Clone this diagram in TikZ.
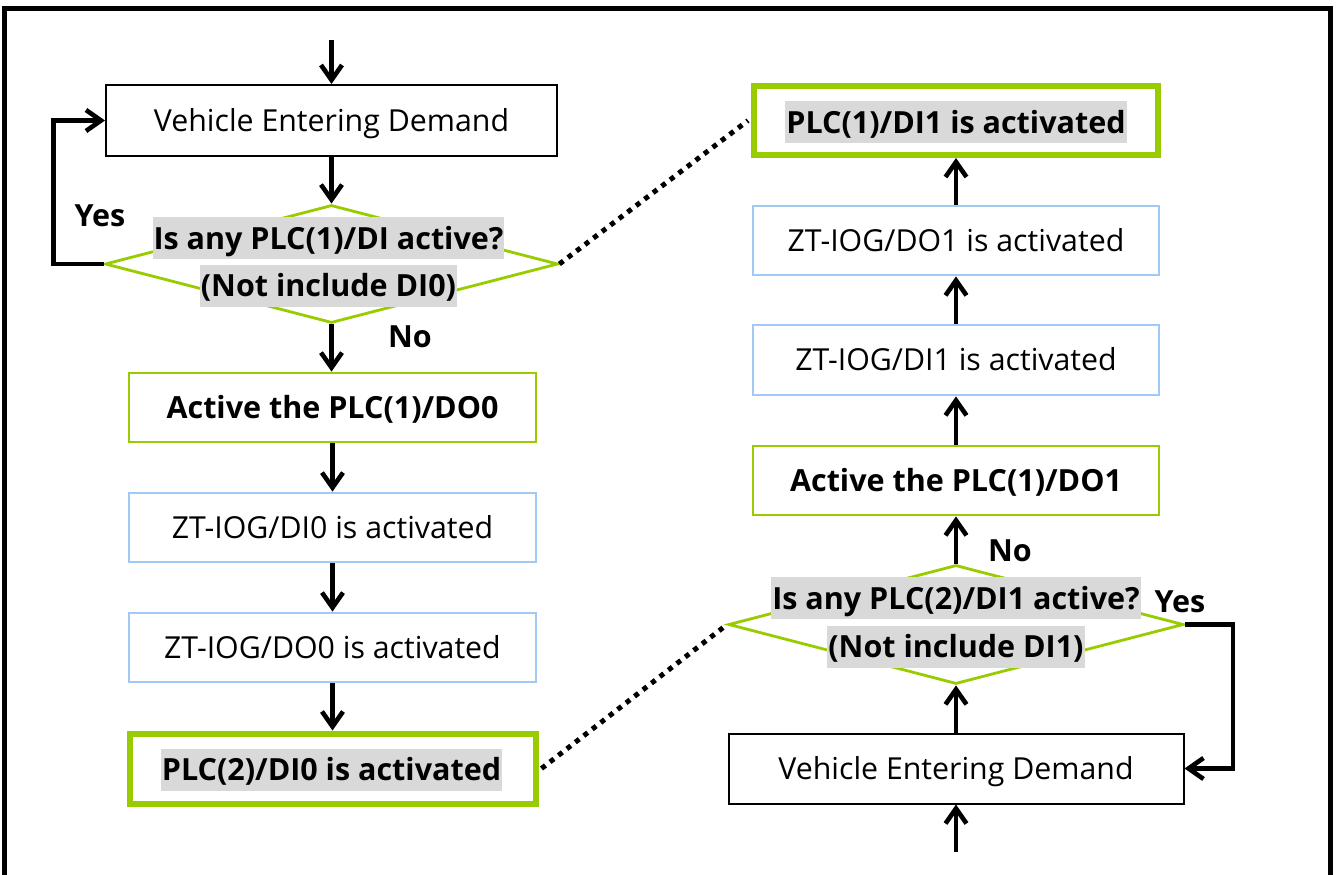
\documentclass[tikz,border=0pt]{standalone}
\usepackage{fontspec}
\setmainfont{Open Sans}
\usetikzlibrary{arrows.meta,shapes.geometric}
\definecolor{lgreen}{RGB}{153,204,0}
\definecolor{lblue}{RGB}{160,202,245}
\definecolor{hlgray}{RGB}{217,217,217}
\begin{document}
\begin{tikzpicture}[x=1pt,y=-1pt,
  regtext/.style={font=\fontsize{30.3}{36}\selectfont},
  boldtext/.style={font=\fontsize{30.5}{36}\selectfont\bfseries},
  boxbase/.style={rectangle, inner sep=0pt, minimum height=70pt, align=center, text height=21.5pt, text depth=0pt},
  blackbox/.style={boxbase, draw=black, line width=2pt, regtext},
  greenbox/.style={boxbase, draw=lgreen, line width=2.8pt, boldtext},
  bluebox/.style={boxbase, draw=lblue, line width=2.8pt, regtext},
  thickgreen/.style={boxbase, draw=lgreen, line width=6pt},
  decision/.style={diamond, draw=lgreen, line width=2.8pt, inner sep=0pt},
  hl/.style={fill=hlgray, inner xsep=1pt, inner ysep=0pt, text height=32pt, text depth=10pt, boldtext},
  lbl/.style={boldtext, inner sep=0pt},
  arr/.style={line width=4.6pt, -{Straight Barb[length=15pt,width=21pt]}},
  dots/.style={line width=5pt, dash pattern=on 5pt off 5.7pt}
]
\useasboundingbox (0,0) rectangle (1339,875);
\begin{scope}
\clip (0,0) rectangle (1339,875);
\draw[line width=5.5pt] (4.5,8.5) rectangle (1330.5,900);
\end{scope}

% left column
\node[blackbox, minimum width=451pt, minimum height=71pt] (ved1) at (331.5,120.5) {Vehicle Entering Demand};
\node[decision, minimum width=453pt, minimum height=118pt] (dia1) at (331.5,264) {};
\node[hl] (q1a) at (328.5,238) {Is any PLC(1)/DI active?};
\node[hl] (q1b) at (328.5,285.5) {(Not include DI0)};
\node[greenbox, minimum width=407pt, minimum height=69pt] (do0) at (332.5,407.5) {Active the PLC(1)/DO0};
\node[bluebox, minimum width=407pt, minimum height=69pt] (zdi0) at (332.5,527.5) {ZT-IOG/DI0 is activated};
\node[bluebox, minimum width=407pt, minimum height=69pt] (zdo0) at (332.5,647.5) {ZT-IOG/DO0 is activated};
\node[thickgreen, minimum width=406pt, minimum height=70pt] (plc2) at (332.5,768.5) {};
\node[hl] (plc2t) at (331.5,769.5) {PLC(2)/DI0 is activated};

% right column
\node[thickgreen, minimum width=404pt, minimum height=69pt] (plc1) at (956,120.5) {};
\node[hl] (plc1t) at (956,122) {PLC(1)/DI1 is activated};
\node[bluebox, minimum width=406pt, minimum height=69pt] (zdo1) at (956,240.5) {ZT-IOG/DO1 is activated};
\node[bluebox, minimum width=406pt, minimum height=70pt] (zdi1) at (956,360) {ZT-IOG/DI1 is activated};
\node[greenbox, minimum width=406pt, minimum height=69pt] (do1) at (956,480.5) {Active the PLC(1)/DO1};
\node[decision, minimum width=455pt, minimum height=119pt] (dia2) at (956,624.5) {};
\node[hl] (q2a) at (956,598) {Is any PLC(2)/DI1 active?};
\node[hl] (q2b) at (956,646.5) {(Not include DI1)};
\node[blackbox, minimum width=455pt, minimum height=70pt] (ved2) at (956,768.5) {Vehicle Entering Demand};

% labels
\node[lbl] (yes1) at (100,216) {Yes};
\node[lbl] (no1) at (410,337) {No};
\node[lbl] (no2) at (1010,551) {No};
\node[lbl] (yes2) at (1180,602) {Yes};

% arrows left
\coordinate (in1) at (331.5,40);
\draw[arr] (in1) -- (ved1.north);
\draw[arr] (ved1.south) -- (dia1.north);
\draw[arr] (dia1.south) -- (dia1.south |- do0.north);
\draw[arr] (do0.south) -- (zdi0.north);
\draw[arr] (zdi0.south) -- (zdo0.north);
\draw[arr] (zdo0.south) -- (plc2.north);
\draw[arr] (dia1.west) -- ++(-50,0) |- (ved1.west);

% arrows right
\coordinate (in2) at (956,852);
\draw[arr] (in2) -- (ved2.south);
\draw[arr] (ved2.north) -- (dia2.south);
\draw[arr] (dia2.north) -- (do1.south);
\draw[arr] (do1.north) -- (zdi1.south);
\draw[arr] (zdi1.north) -- (zdo1.south);
\draw[arr] (zdo1.north) -- (plc1.south);
\draw[arr] (dia2.east) -- ++(48,0) |- (ved2.east);

% dotted links
\draw[dots] (dia1.east) -- ([xshift=-3pt]plc1.west);
\draw[dots] ([xshift=3pt]plc2.east) -- (dia2.west);
\end{tikzpicture}
\end{document}
